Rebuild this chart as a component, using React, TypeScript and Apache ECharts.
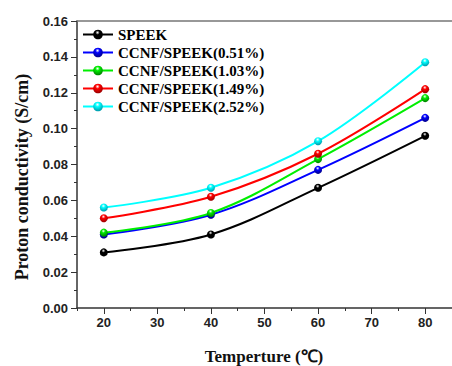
import React, { useEffect, useRef } from "react";
import * as echarts from "echarts";

const temperatures = [20, 40, 60, 80];
const seriesNames = [
  "SPEEK",
  "CCNF/SPEEK(0.51%)",
  "CCNF/SPEEK(1.03%)",
  "CCNF/SPEEK(1.49%)",
  "CCNF/SPEEK(2.52%)",
];
const speek = [0.031, 0.041, 0.067, 0.096];
const ccnf051 = [0.041, 0.052, 0.077, 0.106];
const ccnf103 = [0.042, 0.053, 0.083, 0.117];
const ccnf149 = [0.05, 0.062, 0.086, 0.122];
const ccnf252 = [0.056, 0.067, 0.093, 0.137];
const xTickValues = [20, 30, 40, 50, 60, 70, 80];
const colors = ["#000000", "#0000ff", "#00ee00", "#ff0000", "#00ffff"];
const darkColors = ["#000000", "#000090", "#008800", "#a00000", "#00a0b0"];

const allValues = [speek, ccnf051, ccnf103, ccnf149, ccnf252];

export default function App() {
  const ref = useRef<HTMLDivElement>(null);
  useEffect(() => {
    if (!ref.current) return;
    const chart = echarts.init(ref.current, undefined, { renderer: "svg" });
    const sphere = (i: number) =>
      new echarts.graphic.RadialGradient(0.45, 0.3, 0.65, [
        { offset: 0, color: "#ffffff" },
        { offset: 0.35, color: colors[i] },
        { offset: 1, color: darkColors[i] },
      ]);
    const series = allValues.map((vals, i) => ({
      name: seriesNames[i],
      type: "line",
      smooth: 0.35,
      xAxisIndex: 0,
      yAxisIndex: 0,
      data: temperatures.map((t, j) => [t, vals[j]]),
      symbol: "circle",
      symbolSize: 8,
      lineStyle: { color: colors[i], width: 2 },
      itemStyle: { color: sphere(i), borderWidth: 0 },
      z: 2 + i,
    }));
    chart.setOption({
      animation: false,
      backgroundColor: "#ffffff",
      grid: { left: 77, top: 21, right: -12, bottom: 58, containLabel: false },
      legend: {
        orient: "vertical",
        left: 82,
        top: 27,
        padding: 0,
        itemWidth: 30,
        itemHeight: 12,
        itemGap: 3,
        data: seriesNames,
        textStyle: {
          fontFamily: "Liberation Serif",
          fontWeight: "bold",
          fontSize: 15,
          color: "#000",
        },
      },
      xAxis: [
        {
          type: "value",
          min: 15,
          max: 85,
          position: "bottom",
          axisLine: { show: true, lineStyle: { color: "#333", width: 1.5 } },
          axisTick: {
            show: true,
            length: 6,
            customValues: xTickValues,
            lineStyle: { color: "#333" },
          },
          axisLabel: {
            customValues: xTickValues,
            margin: 8,
            fontFamily: "Liberation Sans",
            fontWeight: "bold",
            fontSize: 13,
            color: "#222",
          },
          splitLine: { show: false },
        },
        {
          type: "value",
          min: 15,
          max: 85,
          interval: 5,
          position: "bottom",
          axisLine: { show: false },
          axisTick: { show: true, length: 3, lineStyle: { color: "#333" } },
          axisLabel: { show: false },
          splitLine: { show: false },
        },
        {
          type: "value",
          min: 15,
          max: 85,
          position: "top",
          axisLine: { show: true, lineStyle: { color: "#777", width: 1.5 } },
          axisTick: { show: false },
          axisLabel: { show: false },
          splitLine: { show: false },
        },
      ],
      yAxis: {
        type: "value",
        min: 0,
        max: 0.16,
        interval: 0.02,
        axisLine: { show: true, lineStyle: { color: "#333", width: 1.5 } },
        axisTick: { show: true, length: 6, lineStyle: { color: "#333" } },
        minorTick: {
          show: true,
          splitNumber: 2,
          length: 3,
          lineStyle: { color: "#333" },
        },
        axisLabel: {
          margin: 9,
          formatter: (v: number) => v.toFixed(2),
          fontFamily: "Liberation Sans",
          fontWeight: "bold",
          fontSize: 13,
          color: "#222",
        },
        splitLine: { show: false },
      },
      graphic: [
        {
          type: "text",
          x: 22,
          y: 177,
          rotation: Math.PI / 2,
          style: {
            text: "Proton conductivity (S/cm)",
            fontFamily: "Liberation Serif",
            fontWeight: "bold",
            fontSize: 18,
            fill: "#111",
            textAlign: "center",
            textVerticalAlign: "middle",
          },
        },
        {
          type: "text",
          x: 264,
          y: 356,
          style: {
            text: "Temperture (℃)",
            fontFamily: "Liberation Serif",
            fontWeight: "bold",
            fontSize: 17,
            fill: "#111",
            textAlign: "center",
            textVerticalAlign: "middle",
          },
        },
      ],
      series,
    });
    return () => chart.dispose();
  }, []);
  return (
    <div
      ref={ref}
      style={{ position: "absolute", left: 0, top: 0, width: 452, height: 366, overflow: "hidden" }}
    />
  );
}
